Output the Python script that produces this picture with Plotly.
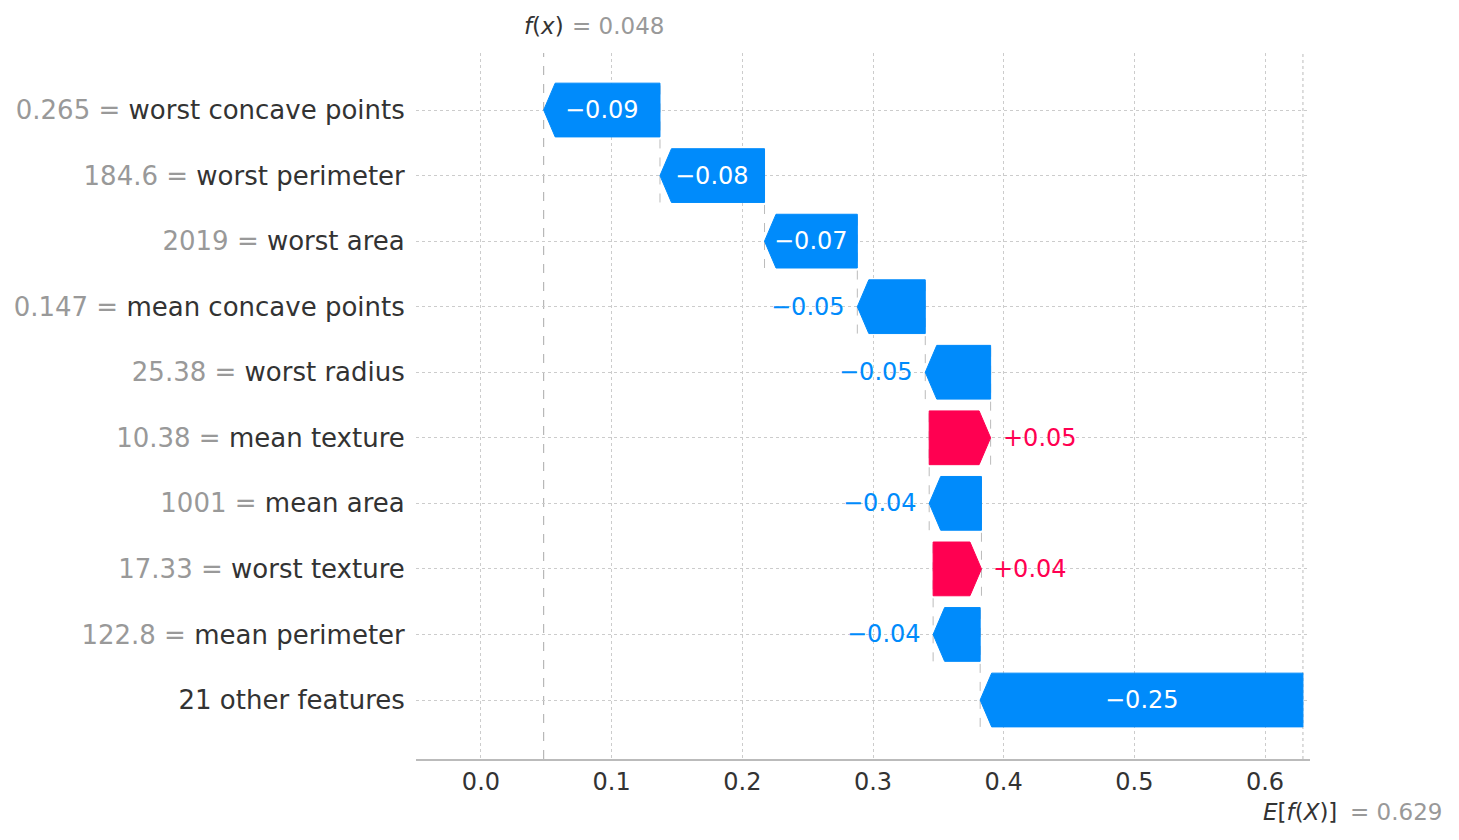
import plotly.graph_objects as go

# ---- data (bottom row first) ----
features = ["21 other features", "mean perimeter", "worst texture", "mean area",
            "mean texture", "worst radius", "mean concave points", "worst area",
            "worst perimeter", "worst concave points"]
feature_values = ["", "122.8", "17.33", "1001", "10.38", "25.38", "0.147",
                  "2019", "184.6", "0.265"]
shap_values = [-0.247, -0.036, 0.037, -0.040, 0.047, -0.050, -0.052, -0.071,
               -0.080, -0.089]
base_value = 0.629
x_ticks = [0.0, 0.1, 0.2, 0.3, 0.4, 0.5, 0.6]
x_tick_labels = ["0.0", "0.1", "0.2", "0.3", "0.4", "0.5", "0.6"]

# ---- styles ----
BLUE = "#008bfb"
RED = "#ff0051"
GRAY_TXT = "#999999"
DARK_TXT = "#333333"
FONT = "DejaVu Sans"
HALF = 0.41
HEAD = 0.0088

starts, ends = [], []
cur = base_value
for v in shap_values:
    starts.append(cur)
    cur += v
    ends.append(cur)
fx = cur

fig = go.Figure()

# connector lines (behind bars)
for i in range(1, len(features)):
    fig.add_trace(go.Scatter(
        x=[starts[i], starts[i]], y=[i - 1 - HALF, i + HALF], mode="lines",
        line=dict(color="#bbbbbb", width=1, dash="dash"),
        hoverinfo="skip", showlegend=False))

annotations = []
for i, v in enumerate(shap_values):
    s, e = starts[i], ends[i]
    col = RED if v > 0 else BLUE
    h = min(HEAD, abs(v))
    sign = 1 if v > 0 else -1
    xs = [s, e - sign * h, e, e - sign * h, s, s]
    ys = [i - HALF, i - HALF, i, i + HALF, i + HALF, i - HALF]
    fig.add_trace(go.Scatter(
        x=xs, y=ys, mode="lines", fill="toself", fillcolor=col,
        line=dict(color=col, width=1), hoverinfo="skip", showlegend=False))
    label = ("+" if v > 0 else "\u2212") + f"{abs(v):.2f}"
    if abs(v) > 0.06:
        annotations.append(dict(x=(s + e) / 2, y=i, text=label, showarrow=False,
                                font=dict(family=FONT, size=24, color="white"),
                                xanchor="center", yanchor="middle"))
    else:
        annotations.append(dict(x=e, y=i, text=label, showarrow=False,
                                font=dict(family=FONT, size=24, color=col),
                                xanchor="left" if v > 0 else "right",
                                xshift=10 if v > 0 else -10,
                                yanchor="middle"))

# f(x) and E[f(X)] labels
annotations.append(dict(x=fx, y=1, yref="paper", xref="x",
                        text="<i>f</i>(<i>x</i>)", showarrow=False,
                        xanchor="left", xshift=-22, yanchor="middle", yshift=27,
                        font=dict(family=FONT, size=23, color=DARK_TXT)))
annotations.append(dict(x=fx, y=1, yref="paper", xref="x",
                        text="= " + f"{fx:.3f}", showarrow=False,
                        xanchor="left", xshift=26, yanchor="middle", yshift=27,
                        font=dict(family=FONT, size=23, color=GRAY_TXT)))
annotations.append(dict(x=base_value, y=0, yref="paper", xref="x",
                        text="<i>E</i>[<i>f</i>(<i>X</i>)]", showarrow=False,
                        xanchor="left", xshift=-42, yanchor="middle", yshift=-53,
                        font=dict(family=FONT, size=23, color=DARK_TXT)))
annotations.append(dict(x=base_value, y=0, yref="paper", xref="x",
                        text="= " + f"{base_value:.3f}", showarrow=False,
                        xanchor="left", xshift=45, yanchor="middle", yshift=-53,
                        font=dict(family=FONT, size=23, color=GRAY_TXT)))

shapes = [
    dict(type="line", xref="x", yref="paper", x0=fx, x1=fx, y0=0, y1=1,
         line=dict(color="#aaaaaa", width=1, dash="dash"), layer="below"),
    dict(type="line", xref="x", yref="paper", x0=base_value, x1=base_value, y0=0, y1=1,
         line=dict(color="#bbbbbb", width=1, dash="dot"), layer="below"),
]

ticktext = []
for f, fv in zip(features, feature_values):
    if fv:
        ticktext.append(f"<span style='color:{GRAY_TXT}'>{fv} = </span>{f}")
    else:
        ticktext.append(f)

# page body has an 8px default margin, so the figure is offset by 8px
fig.update_layout(
    width=1451, height=832, autosize=False,
    margin=dict(l=408, r=149, t=45, b=81),
    plot_bgcolor="white", paper_bgcolor="white",
    font=dict(family=FONT, color=DARK_TXT),
    showlegend=False,
    annotations=annotations, shapes=shapes,
    xaxis=dict(range=[-0.0497, 0.6344], tickvals=x_ticks, ticktext=x_tick_labels,
               showgrid=True, gridcolor="#cccccc", griddash="dot", gridwidth=1,
               zeroline=False, showline=True, linecolor="#bbbbbb", linewidth=2,
               ticks="", tickfont=dict(family=FONT, size=24, color=DARK_TXT),
               fixedrange=True, automargin=False),
    yaxis=dict(range=[-0.9, 9.87], tickvals=list(range(len(features))), ticktext=ticktext,
               showgrid=True, gridcolor="#cccccc", griddash="dot", gridwidth=1,
               zeroline=False, showline=False,
               ticks="outside", ticklen=5, tickcolor="rgba(0,0,0,0)",
               tickfont=dict(family=FONT, size=26, color=DARK_TXT), fixedrange=True,
               automargin=False),
)

fig.write_html("out.html")
